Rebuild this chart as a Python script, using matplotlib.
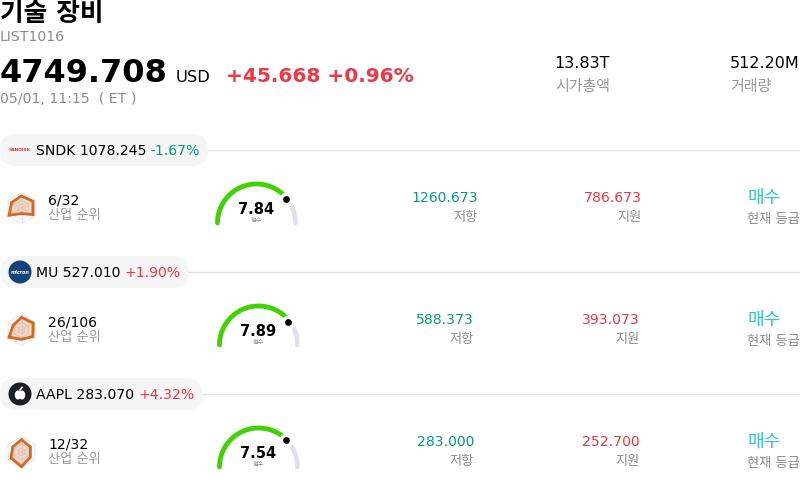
import numpy as np
import matplotlib as mpl
mpl.use('Agg')
import matplotlib.pyplot as plt
from matplotlib.patches import Circle, Ellipse, FancyBboxPatch

mpl.rcParams['font.family'] = ['DejaVu Sans', 'Noto Sans CJK KR']

# header data
title = '기술 장비'
list_code = 'LIST1016'
index_price = '4749.708'
currency = 'USD'
index_change = '+45.668 +0.96%'
timestamp = '05/01, 11:15  ( ET )'
market_cap = '13.83T'
volume = '512.20M'

# one entry per stock
tickers = ['SNDK', 'MU', 'AAPL']
prices = ['1078.245', '527.010', '283.070']
changes = ['-1.67%', '+1.90%', '+4.32%']
ranks = ['6/32', '26/106', '12/32']
scores = [7.84, 7.89, 7.54]
resistance = ['1260.673', '588.373', '283.000']
support = ['786.673', '393.073', '252.700']
ratings = ['매수', '매수', '매수']
radar_values = [[0.78, 0.86, 0.86, 0.36, 0.93, 0.73],
                [0.82, 0.88, 0.85, 0.60, 0.93, 0.61],
                [0.80, 0.66, 0.66, 0.95, 0.78, 0.65]]

# colours
red = '#f23645'
green = '#089981'
teal = '#2ec9b7'
grey = '#8c8c8c'
line_col = '#e0e0ea'
radar_col = '#d2691e'

fig = plt.figure(figsize=(8, 4.88), dpi=100)
ax = fig.add_axes([0, 0, 1, 1])
ax.set_xlim(0, 800)
ax.set_ylim(488, 0)
ax.axis('off')


def txt(x, y, s, size=10, color='black', ha='left', weight='normal', z=5):
    return ax.text(x, y + 1, s, fontsize=size, color=color, ha=ha, va='center',
                   fontweight=weight, zorder=z)


# ------- header -------- #
txt(0, 13, title, size=18.5, weight='bold')
txt(0, 36, list_code, size=10.2, color=grey)
txt(0, 72, index_price, size=23, weight='bold')
txt(176, 76, currency, size=11.8)
txt(226, 75, index_change, size=14.5, color=red, weight='bold')
txt(0, 98, timestamp, size=10.2, color=grey)
txt(554, 62, market_cap, size=11.5)
txt(555, 85, '시가총액', size=10.8, color='#999999')
txt(730, 62, volume, size=11.5)
txt(730, 85, '거래량', size=10.8, color='#999999')

# ------- stock rows -------- #
fig.canvas.draw()
renderer = fig.canvas.get_renderer()
row_h = 122
gauge_x = [256.5, 258.5, 258.5]
res_x = [478, 474, 474]
sup_x = [642, 640, 640]
for i, ticker in enumerate(tickers):
    dy = i * row_h

    # pill with ticker, price and change
    label = txt(36, 150 + dy, f'{ticker} {prices[i]}', size=10.1)
    label_end = ax.transData.inverted().transform(
        label.get_window_extent(renderer))[1, 0]
    chg_col = red if changes[i].startswith('+') else green
    chg = txt(label_end + 4, 150 + dy, changes[i], size=10.1, color=chg_col)
    chg_end = ax.transData.inverted().transform(
        chg.get_window_extent(renderer))[1, 0]
    pill_end = chg_end + 8
    ax.plot([pill_end, 800], [150 + dy, 150 + dy], color=line_col, lw=1, zorder=1)
    ax.add_patch(FancyBboxPatch((0, 134 + dy), pill_end, 32,
                                boxstyle='round,pad=0,rounding_size=16',
                                fc='#f5f5f5', ec='none', zorder=2))

    # logos
    if ticker == 'SNDK':
        ax.text(20, 150 + dy, 'SANDISK', fontsize=3.2, color='#e8303a', ha='center',
                va='center', fontweight='bold', zorder=4)
    elif ticker == 'MU':
        ax.add_patch(Circle((20, 150 + dy), 11.5, fc='#14427a', ec='none', zorder=3))
        ax.text(20, 150 + dy, 'micron', fontsize=3.5, color='white', ha='center',
                va='center', style='italic', fontweight='bold', zorder=4)
    else:
        ax.add_patch(Circle((20, 150 + dy), 11.5, fc='#1c1f24', ec='none', zorder=3))
        ax.add_patch(Ellipse((18, 151 + dy), 6.5, 9, fc='white', ec='none', zorder=4))
        ax.add_patch(Ellipse((22, 151 + dy), 6.5, 9, fc='white', ec='none', zorder=4))
        ax.plot([20, 22], [146 + dy, 143.5 + dy], color='white', lw=1.2, zorder=4)

    # radar icon
    cx, cy, r = 21.5, 208 + dy, 15.5
    ang = np.radians(90 - np.arange(6) * 60)
    for lvl in [0.25, 0.5, 0.75, 1.0]:
        hx = cx + lvl * r * np.cos(ang)
        hy = cy - lvl * r * np.sin(ang)
        ax.fill(hx, hy, fc='none', ec='#e3e3ee', lw=0.7, zorder=2)
    for a in ang:
        ax.plot([cx, cx + r * np.cos(a)], [cy, cy - r * np.sin(a)],
                color='#e3e3ee', lw=0.5, zorder=2)
    vals = np.array(radar_values[i])
    ax.fill(cx + vals * r * np.cos(ang), cy - vals * r * np.sin(ang),
            fc=radar_col, alpha=0.25, ec='none', zorder=3)
    ax.fill(cx + vals * r * np.cos(ang), cy - vals * r * np.sin(ang),
            fc='none', ec=radar_col, lw=2, joinstyle='miter', zorder=3)

    txt(48, 199 + dy, ranks[i], size=10.1)
    txt(48, 215 + dy, '산업 순위', size=9.5, color='#999999')

    # gauge
    gx, gy, gr = gauge_x[i], 223 + dy, 39
    t_all = np.radians(np.linspace(180, 0, 120))
    ax.plot(gx + gr * np.cos(t_all), gy - gr * np.sin(t_all), color='#e0e0ea',
            lw=3.4, solid_capstyle='round', zorder=2)
    t_val = np.radians(180 - scores[i] / 10 * 180)
    t_fill = np.linspace(np.pi, t_val, 120)
    ax.plot(gx + gr * np.cos(t_fill), gy - gr * np.sin(t_fill), color='#3fd400',
            lw=3.4, solid_capstyle='round', zorder=3)
    ax.scatter(gx + (gr - 1) * np.cos(t_val), gy - (gr - 1) * np.sin(t_val), s=55,
               color='black', edgecolors='white', linewidths=2.5, zorder=4)
    txt(gx, 209 + dy, f'{scores[i]:.2f}', size=10.5, ha='center', weight='bold')
    txt(gx, 220 + dy, '점수', size=4.5, ha='center', color=grey)

    # resistance, support, rating
    txt(res_x[i], 197 + dy, resistance[i], size=10.1, color=green, ha='right')
    txt(res_x[i], 217 + dy, '저항', size=9.5, color=grey, ha='right')
    txt(sup_x[i], 197 + dy, support[i], size=10.1, color=red, ha='right')
    txt(sup_x[i], 217 + dy, '지원', size=9.5, color=grey, ha='right')
    txt(748, 197 + dy, ratings[i], size=13, color=teal)
    txt(800, 219 + dy, '현재 등급', size=9.5, color=grey, ha='right')

fig.savefig('out.png', dpi=100)
